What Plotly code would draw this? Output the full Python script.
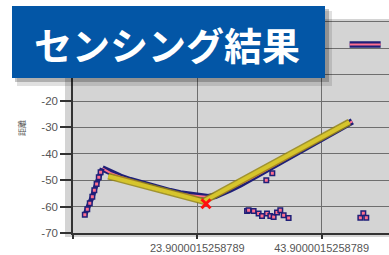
import plotly.graph_objects as go

W, H = 389, 255
ML, MR, MT, MB = 73, 0, 19, 22

# ---------------- data ----------------
rise_x = [5.80, 6.20, 6.60, 7.01, 7.33, 7.70, 8.05, 8.34]
rise_y = [-63.1, -61.0, -58.75, -56.3, -53.8, -51.4, -48.9, -47.0]

curve_x = [8.61, 9.90, 11.51, 13.12, 14.73, 16.34, 17.95, 19.56, 21.16, 22.77,
           24.38, 25.67, 26.8, 27.92, 29.21, 30.82, 32.43, 34.04, 35.65, 37.25,
           38.86, 40.47, 42.08, 43.69, 45.3, 46.91, 48.84]
curve_y = [-45.5, -47.2, -48.7, -50.0, -51.2, -52.3, -53.3, -54.2, -55.0, -55.7,
           -56.2, -56.4, -55.9, -55.0, -53.4, -51.6, -49.5, -47.4, -45.3, -43.2,
           -41.1, -39.1, -37.0, -34.9, -32.6, -30.3, -27.7]

stray_x = [35.0, 35.97]
stray_y = [-50.0, -47.4]

cluster_x = [31.90, 32.15, 32.96, 33.76, 34.31, 35.11, 35.65, 36.18, 36.72, 37.25, 37.79, 38.59]
cluster_y = [-61.7, -61.4, -61.7, -62.65, -63.56, -62.65, -63.56, -63.94, -62.27, -61.4, -63.3, -64.3]

tri_x = [50.13, 50.61, 51.09]
tri_y = [-64.2, -62.5, -64.2]

bar_x = [48.4, 49.0, 49.6, 50.2, 50.8, 51.4, 52.0, 52.6, 53.4]
bar_y = [1.4, 1.4, 1.4, 1.4, 1.4, 1.4, 1.4, 1.4, 1.4]

fit_x = [9.58, 24.91, 48.36]
fit_y = [-48.5, -58.0, -28.0]

min_x = [25.3]
min_y = [-58.9]

x_tickvals = [3.9, 23.9, 43.9]
x_ticktext = ["", "23.9000015258789", "43.9000015258789"]
y_tickvals = [-70, -60, -50, -40, -30, -20, -10, 0, 10]
y_ticktext = ["-70", "-60", "-50", "-40", "-30", "-20", "", "", ""]

title_text = "センシング結果"
ytitle_text = "距離"

NAVY = "#1f1f78"
PINK = "#ff6f8f"

fig = go.Figure()

# measured curve (dense markers look like a band)
for xs, ys in [(curve_x, curve_y), (bar_x, bar_y)]:
    fig.add_trace(go.Scatter(x=xs, y=ys, mode="lines",
                             line=dict(color=NAVY, width=6.5), hoverinfo="skip"))
    fig.add_trace(go.Scatter(x=xs, y=ys, mode="lines",
                             line=dict(color=PINK, width=2), hoverinfo="skip"))

# rising segment: navy band under markers
fig.add_trace(go.Scatter(x=rise_x + [curve_x[0]], y=rise_y + [curve_y[0]], mode="lines",
                         line=dict(color=NAVY, width=5), hoverinfo="skip"))

mk = dict(symbol="square", size=4.5, color=PINK, line=dict(color=NAVY, width=1.5))
for xs, ys in [(rise_x, rise_y), (stray_x, stray_y), (cluster_x, cluster_y), (tri_x, tri_y)]:
    fig.add_trace(go.Scatter(x=xs, y=ys, mode="markers", marker=mk, hoverinfo="skip"))

# fitted line
fig.add_trace(go.Scatter(x=fit_x, y=fit_y, mode="lines",
                         line=dict(color="rgba(150,135,20,0.85)", width=7)))
fig.add_trace(go.Scatter(x=fit_x, y=fit_y, mode="lines",
                         line=dict(color="#d6c52c", width=4)))

# minimum point
fig.add_trace(go.Scatter(x=min_x, y=min_y, mode="markers",
                         marker=dict(symbol="x-thin", size=9, color="#ff1010",
                                     line=dict(color="#ff1010", width=3))))


def pxx(p):
    return (p - ML) / (W - ML - MR)


def pxy(p):
    return (H - MB - p) / (H - MT - MB)


shapes = [
    # plot area extension
    dict(type="rect", xref="paper", yref="paper", layer="below",
         x0=pxx(65), x1=pxx(389), y0=pxy(237), y1=pxy(19),
         fillcolor="#d4d4d4", line=dict(width=0)),
    # title shadow
    dict(type="rect", xref="paper", yref="paper", layer="above",
         x0=pxx(17), x1=pxx(332), y0=pxy(86), y1=pxy(11),
         fillcolor="rgba(0,0,0,0.12)", line=dict(width=0)),
    dict(type="rect", xref="paper", yref="paper", layer="above",
         x0=pxx(15), x1=pxx(329), y0=pxy(82), y1=pxy(9),
         fillcolor="rgba(0,0,0,0.22)", line=dict(width=0)),
    # title box
    dict(type="rect", xref="paper", yref="paper", layer="above",
         x0=pxx(12), x1=pxx(325), y0=pxy(78), y1=pxy(6),
         fillcolor="#0356a6", line=dict(width=0)),
]

annotations = [
    dict(text=title_text, xref="paper", yref="paper",
         x=pxx(167), y=pxy(44), xanchor="center", yanchor="middle",
         showarrow=False,
         font=dict(family="Noto Sans CJK JP", size=38, color="white", weight="bold")),
    dict(text=ytitle_text, xref="paper", yref="paper",
         x=pxx(21), y=pxy(128), xanchor="center", yanchor="middle",
         showarrow=False, textangle=-90,
         font=dict(family="Noto Sans CJK JP", size=8, color="#555555")),
]

fig.update_layout(
    width=W, height=H,
    margin=dict(l=ML, r=MR, t=MT, b=MB, pad=0),
    paper_bgcolor="white", plot_bgcolor="#d4d4d4",
    showlegend=False,
    shapes=shapes, annotations=annotations,
    font=dict(family="Liberation Sans", color="#555555"),
)
fig.update_xaxes(range=[3.9, 54.74], tickvals=x_tickvals, ticktext=x_ticktext,
                 showgrid=True, gridcolor="#6e6e6e", gridwidth=1,
                 showline=True, linecolor="#333333", linewidth=1.5,
                 ticks="outside", ticklen=4, tickcolor="#333333", tickwidth=1.5,
                 tickfont=dict(size=11, color="#555555"), zeroline=False,
                 automargin=False)
fig.update_yaxes(range=[-70, 11.06], tickvals=y_tickvals, ticktext=y_ticktext,
                 showgrid=True, gridcolor="#6e6e6e", gridwidth=1,
                 showline=True, linecolor="#333333", linewidth=1.5,
                 ticks="outside", ticklen=11, tickcolor="#333333", tickwidth=1.5,
                 tickfont=dict(size=11.5, color="#555555"), zeroline=False,
                 automargin=False)

fig.write_html("out.html", config={"displayModeBar": False},
               post_script="document.body.style.margin='0';document.body.style.overflow='hidden';")
